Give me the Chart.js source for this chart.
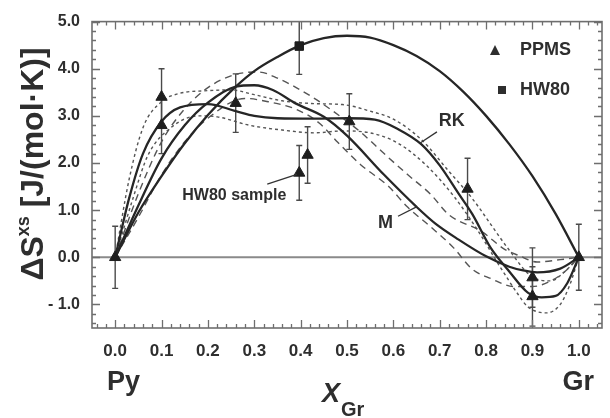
<!DOCTYPE html>
<html>
<head>
<meta charset="utf-8">
<script src="https://cdn.jsdelivr.net/npm/chart.js@4/dist/chart.umd.min.js"></script>
<style>
  html, body { margin: 0; padding: 0; background: #fff; }
  #wrap { width: 610px; height: 418px; }
</style>
</head>
<body>
<div id="wrap"><canvas id="excessChart" width="610" height="418"></canvas></div>
<script>
// ---- measured points (x_Gr, ΔS^xs, error) ----
var ppmsX = [0.0, 0.1, 0.1, 0.26, 0.505, 0.76, 0.9, 0.9, 1.0];
var ppmsY = [0.0, 3.4, 2.8, 3.27, 2.88, 1.45, -0.43, -0.83, 0.0];
var ppmsErr = [0.66, 0.6, 0.6, 0.62, 0.59, 0.65, 0.63, 0.63, 0.7];

var sampleX = [0.397, 0.415];
var sampleY = [1.79, 2.17];
var sampleErr = [0.58, 0.6];

var hw80X = [0.397];
var hw80Y = [4.48];
var hw80Err = [0.6];

// ---- fitted curves ----
var hwFitX = [0, 0.05, 0.1, 0.15, 0.2, 0.26, 0.3, 0.35, 0.4, 0.45, 0.5, 0.55, 0.6, 0.65, 0.7, 0.75, 0.8, 0.85, 0.9, 0.95, 1.0];
var hwFitY = [0, 0.95, 1.72, 2.42, 3.02, 3.62, 3.95, 4.25, 4.5, 4.65, 4.7, 4.66, 4.5, 4.27, 3.95, 3.52, 3.0, 2.4, 1.72, 0.92, 0];

var rkX = [0, 0.03, 0.06, 0.1, 0.14, 0.2, 0.26, 0.3, 0.35, 0.43, 0.5, 0.56, 0.61, 0.66, 0.7, 0.74, 0.77, 0.81, 0.85, 0.89, 0.92, 0.95, 0.975, 1.0];
var rkY = [0, 1.25, 2.2, 2.88, 3.18, 3.25, 3.1, 3.0, 2.95, 2.94, 2.95, 2.92, 2.72, 2.4, 1.95, 1.36, 0.92, 0.2, -0.3, -0.75, -0.85, -0.82, -0.55, 0];

var mX = [0, 0.05, 0.1, 0.15, 0.2, 0.26, 0.3, 0.34, 0.39, 0.45, 0.5, 0.58, 0.65, 0.69, 0.74, 0.8, 0.85, 0.88, 0.91, 0.96, 1.0];
var mY = [0, 1.1, 2.1, 2.8, 3.28, 3.62, 3.65, 3.55, 3.26, 2.98, 2.58, 1.75, 1.07, 0.72, 0.38, 0.02, -0.2, -0.28, -0.32, -0.24, 0];

// confidence bands (short dashes around RK, long dashes around M)
var rkUpX = [0, 0.03, 0.06, 0.1, 0.14, 0.19, 0.25, 0.3, 0.36, 0.43, 0.49, 0.55, 0.6, 0.66, 0.72, 0.77, 0.81, 0.85, 0.9, 0.94, 0.97, 1.0];
var rkUpY = [0, 1.65, 2.75, 3.3, 3.48, 3.53, 3.55, 3.45, 3.32, 3.26, 3.24, 3.1, 2.93, 2.5, 1.82, 1.25, 0.7, 0.15, -0.42, -0.5, -0.3, 0];
var rkLoX = [0, 0.04, 0.07, 0.12, 0.18, 0.22, 0.29, 0.36, 0.43, 0.49, 0.55, 0.61, 0.67, 0.73, 0.78, 0.83, 0.87, 0.89, 0.93, 0.96, 0.98, 1.0];
var rkLoY = [0, 1.3, 2.15, 2.75, 3.0, 2.98, 2.8, 2.7, 2.64, 2.68, 2.64, 2.42, 1.96, 1.3, 0.6, -0.2, -0.8, -1.05, -1.18, -1.0, -0.6, 0];
var mUpX = [0, 0.05, 0.1, 0.15, 0.2, 0.26, 0.31, 0.35, 0.42, 0.47, 0.53, 0.58, 0.63, 0.68, 0.72, 0.79, 0.84, 0.87, 0.91, 0.96, 1.0];
var mUpY = [0, 1.35, 2.45, 3.15, 3.6, 3.88, 3.93, 3.8, 3.43, 3.1, 2.65, 2.2, 1.76, 1.34, 0.9, 0.55, 0.17, 0.04, -0.1, -0.05, 0];
var mLoX = [0, 0.05, 0.1, 0.15, 0.2, 0.28, 0.33, 0.39, 0.44, 0.48, 0.53, 0.59, 0.63, 0.68, 0.73, 0.77, 0.81, 0.86, 0.9, 0.94, 0.97, 1.0];
var mLoY = [0, 0.85, 1.75, 2.45, 2.95, 3.37, 3.3, 3.14, 2.85, 2.44, 1.96, 1.5, 1.07, 0.65, 0.2, -0.25, -0.45, -0.62, -0.62, -0.5, -0.3, 0];

// ---- axes ----
var xTicks = [0, 0.1, 0.2, 0.3, 0.4, 0.5, 0.6, 0.7, 0.8, 0.9, 1.0];
var xTickLabels = ['0.0', '0.1', '0.2', '0.3', '0.4', '0.5', '0.6', '0.7', '0.8', '0.9', '1.0'];
var yTicks = [-1, 0, 1, 2, 3, 4, 5];
var yTickLabels = ['- 1.0', '0.0', '1.0', '2.0', '3.0', '4.0', '5.0'];

var FONT = '"Liberation Sans", Arial, Helvetica, sans-serif';
var INK = '#2e2e2e';

function zip(xs, ys) {
    return xs.map(function(x, i) { return { x: x, y: ys[i] }; });
}

function curve(label, xs, ys, dash) {
    return {
        label: label,
        data: zip(xs, ys),
        showLine: true,
        pointRadius: 0,
        borderColor: dash ? '#555' : '#262626',
        borderWidth: dash ? 1.4 : 2.3,
        borderDash: dash || [],
        cubicInterpolationMode: 'monotone',
        fill: false
    };
}

// error bars under the markers
var errorBars = {
    id: 'errorBars',
    beforeDatasetsDraw: function(chart) {
        var ctx = chart.ctx, a = chart.chartArea, ys = chart.scales.y;
        ctx.save();
        ctx.beginPath();
        ctx.rect(a.left, a.top, a.right - a.left, a.bottom - a.top);
        ctx.clip();
        // zero line
        ctx.strokeStyle = '#8a8a8a';
        ctx.lineWidth = 2;
        ctx.beginPath();
        ctx.moveTo(a.left, ys.getPixelForValue(0));
        ctx.lineTo(a.right, ys.getPixelForValue(0));
        ctx.stroke();

        ctx.strokeStyle = '#4a4a4a';
        ctx.lineWidth = 1.4;
        chart.data.datasets.forEach(function(ds, i) {
            if (!ds.errs) return;
            chart.getDatasetMeta(i).data.forEach(function(el, j) {
                var v = ds.data[j].y, e = ds.errs[j];
                var top = ys.getPixelForValue(v + e), bot = ys.getPixelForValue(v - e);
                ctx.beginPath();
                ctx.moveTo(el.x, top); ctx.lineTo(el.x, bot);
                ctx.moveTo(el.x - 3, top); ctx.lineTo(el.x + 3, top);
                ctx.moveTo(el.x - 3, bot); ctx.lineTo(el.x + 3, bot);
                ctx.stroke();
            });
        });
        ctx.restore();
    }
};

// frame with inward ticks on all sides, labels and notes
var decor = {
    id: 'decor',
    afterDraw: function(chart) {
        var ctx = chart.ctx, a = chart.chartArea, xs = chart.scales.x, ys = chart.scales.y;
        ctx.save();
        ctx.strokeStyle = '#6e6e6e';
        ctx.lineWidth = 1.6;
        ctx.strokeRect(a.left, a.top, a.right - a.left, a.bottom - a.top);

        ctx.lineWidth = 1.3;
        ctx.beginPath();
        for (var k = -2; k <= 52; k++) {
            var xv = k * 0.02;
            if (xv < -0.05 || xv > 1.05) continue;
            var px = Math.round(xs.getPixelForValue(xv)) + 0.5;
            var len = (k % 5 === 0) ? 8 : 4;
            ctx.moveTo(px, a.bottom); ctx.lineTo(px, a.bottom - len);
            ctx.moveTo(px, a.top); ctx.lineTo(px, a.top + len);
        }
        for (var m = -7; m <= 25; m++) {
            var yv = m * 0.2;
            var py = Math.round(ys.getPixelForValue(yv)) + 0.5;
            var ylen = (m % 5 === 0) ? 8 : 4;
            ctx.moveTo(a.left, py); ctx.lineTo(a.left + ylen, py);
            ctx.moveTo(a.right, py); ctx.lineTo(a.right - ylen, py);
        }
        ctx.stroke();

        ctx.fillStyle = INK;
        ctx.strokeStyle = '#333';

        // legend
        ctx.beginPath();
        ctx.moveTo(490, 55); ctx.lineTo(500, 55); ctx.lineTo(495, 45); ctx.closePath();
        ctx.fill();
        ctx.fillRect(498, 86, 8, 8);
        ctx.font = 'bold 18px ' + FONT;
        ctx.textAlign = 'left';
        ctx.textBaseline = 'middle';
        ctx.fillText('PPMS', 520, 50);
        ctx.fillText('HW80', 520, 90);

        // curve notes with pointer lines, placed in data units
        function P(x, y) { return [xs.getPixelForValue(x), ys.getPixelForValue(y)]; }
        function pointer(p, q) {
            var s = P(p[0], p[1]), t = P(q[0], q[1]);
            ctx.lineWidth = 1.3;
            ctx.beginPath(); ctx.moveTo(s[0], s[1]); ctx.lineTo(t[0], t[1]); ctx.stroke();
        }
        ctx.textAlign = 'center';
        var rk = P(0.726, 2.89);
        ctx.fillText('RK', rk[0], rk[1]);
        pointer([0.657, 2.42], [0.694, 2.66]);
        var mm = P(0.583, 0.72);
        ctx.fillText('M', mm[0], mm[1]);
        pointer([0.61, 0.87], [0.65, 1.07]);
        ctx.font = 'bold 16px ' + FONT;
        var hs = P(0.257, 1.30);
        ctx.fillText('HW80 sample', hs[0], hs[1]);
        pointer([0.328, 1.55], [0.392, 1.76]);

        // end members and x title
        ctx.textBaseline = 'alphabetic';
        ctx.font = 'bold 27px ' + FONT;
        ctx.textAlign = 'left';
        ctx.fillText('Py', 107, 390);
        ctx.textAlign = 'right';
        ctx.fillText('Gr', 594, 390);
        ctx.textAlign = 'left';
        ctx.font = 'italic bold 27px ' + FONT;
        ctx.fillText('X', 322, 402);
        ctx.font = 'bold 20px ' + FONT;
        ctx.fillText('Gr', 341, 416);

        // y title, rotated, with superscript
        ctx.translate(43, 164);
        ctx.rotate(-Math.PI / 2);
        var parts = [['\u0394S', 'bold 32px ' + FONT, 0], ['xs', 'bold 18px ' + FONT, -14], [' [J/(mol\u00B7K)]', 'bold 32px ' + FONT, 0]];
        var total = 0;
        parts.forEach(function(p) { ctx.font = p[1]; total += ctx.measureText(p[0]).width; });
        var cx = -total / 2;
        ctx.textAlign = 'left';
        parts.forEach(function(p) {
            ctx.font = p[1];
            ctx.fillText(p[0], cx, p[2]);
            cx += ctx.measureText(p[0]).width;
        });
        ctx.restore();
    }
};

new Chart(document.getElementById('excessChart').getContext('2d'), {
    type: 'scatter',
    data: {
        datasets: [
            { label: 'PPMS', data: zip(ppmsX, ppmsY), errs: ppmsErr, pointStyle: 'triangle', pointRadius: 6.5,
              backgroundColor: '#1e1e1e', borderColor: '#1e1e1e', borderWidth: 1 },
            { label: 'HW80 sample', data: zip(sampleX, sampleY), errs: sampleErr, pointStyle: 'triangle', pointRadius: 6.5,
              backgroundColor: '#1e1e1e', borderColor: '#1e1e1e', borderWidth: 1 },
            { label: 'HW80', data: zip(hw80X, hw80Y), errs: hw80Err, pointStyle: 'rect', pointRadius: 6,
              backgroundColor: '#1e1e1e', borderColor: '#1e1e1e', borderWidth: 1 },
            curve('HW80 fit', hwFitX, hwFitY),
            curve('RK', rkX, rkY),
            curve('M', mX, mY),
            curve('RK upper', rkUpX, rkUpY, [3, 3]),
            curve('RK lower', rkLoX, rkLoY, [3, 3]),
            curve('M upper', mUpX, mUpY, [7, 5]),
            curve('M lower', mLoX, mLoY, [7, 5])
        ]
    },
    options: {
        responsive: false,
        animation: false,
        devicePixelRatio: 1,
        layout: { padding: { top: 13, right: 8, left: 0, bottom: 0 } },
        plugins: { legend: { display: false }, tooltip: { enabled: false } },
        scales: {
            x: {
                type: 'linear', min: -0.05, max: 1.05,
                afterBuildTicks: function(s) { s.ticks = xTicks.map(function(v) { return { value: v }; }); },
                afterFit: function(s) { s.height = 90; },
                grid: { display: false, drawTicks: false },
                border: { display: false },
                ticks: {
                    autoSkip: false, maxRotation: 0, padding: 13, color: INK,
                    font: { family: FONT, size: 17, weight: 'bold' },
                    callback: function(v, i) { return xTickLabels[i]; }
                }
            },
            y: {
                type: 'linear', min: -1.5, max: 5.0,
                afterBuildTicks: function(s) { s.ticks = yTicks.map(function(v) { return { value: v }; }); },
                afterFit: function(s) { s.width = 92; },
                grid: { display: false, drawTicks: false },
                border: { display: false },
                ticks: {
                    autoSkip: false, padding: 12, color: INK,
                    font: { family: FONT, size: 16, weight: 'bold' },
                    callback: function(v, i) { return yTickLabels[i]; }
                }
            }
        }
    },
    plugins: [errorBars, decor]
});
</script>
</body>
</html>
